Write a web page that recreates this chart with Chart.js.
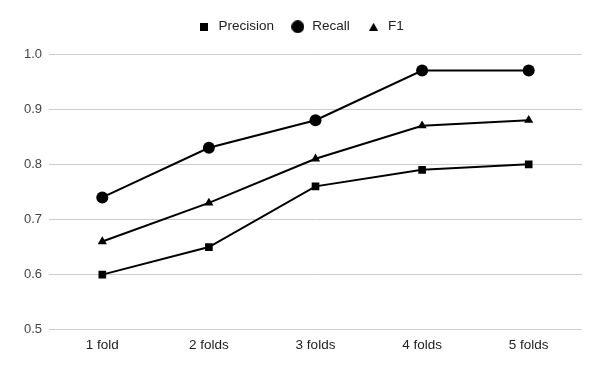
<!DOCTYPE html>
<html>
<head>
<meta charset="utf-8">
<script src="https://cdn.jsdelivr.net/npm/chart.js@4"></script>
<style>
html,body{margin:0;padding:0;background:#fff;}
#wrap{width:600px;height:371px;position:relative;}
</style>
</head>
<body>
<div id="wrap"><canvas id="c" width="600" height="371"></canvas></div>
<script>
const categories = ["1 fold", "2 folds", "3 folds", "4 folds", "5 folds"];
const precision = [0.60, 0.65, 0.76, 0.79, 0.80];
const recall = [0.74, 0.83, 0.88, 0.97, 0.97];
const f1 = [0.66, 0.73, 0.81, 0.87, 0.88];
const yTicks = [0.5, 0.6, 0.7, 0.8, 0.9, 1.0];

Chart.defaults.font.family = "'Liberation Sans', Arial, sans-serif";
Chart.defaults.color = "#444";

function mk(w, h, draw) {
  const c = document.createElement('canvas');
  c.width = w; c.height = h;
  const x = c.getContext('2d');
  x.fillStyle = '#000';
  draw(x);
  return c;
}
const legendIcons = [
  mk(8, 8, x => x.fillRect(0, 0, 8, 8)),
  mk(13, 13, x => { x.beginPath(); x.arc(6.5, 6.5, 6.5, 0, Math.PI * 2); x.fill(); }),
  mk(9, 8, x => { x.beginPath(); x.moveTo(4.5, 0); x.lineTo(9, 8); x.lineTo(0, 8); x.closePath(); x.fill(); })
];

const legendHeightPlugin = {
  id: 'legendHeight',
  beforeLayout(chart) {
    const lg = chart.legend;
    if (lg && !lg._patched) {
      const orig = lg.fit;
      lg.fit = function () { orig.call(this); this.height = 50; };
      lg._patched = true;
    }
  }
};

new Chart(document.getElementById('c'), {
  type: 'line',
  data: {
    labels: categories,
    datasets: [
      {label: 'Precision', data: precision, borderColor: '#000', backgroundColor: '#000',
       borderWidth: 2, pointStyle: 'rect', pointRadius: 5.4, pointBorderWidth: 0,
       pointBackgroundColor: '#000', tension: 0},
      {label: 'Recall', data: recall, borderColor: '#000', backgroundColor: '#000',
       borderWidth: 2, pointStyle: 'circle', pointRadius: 6, pointBorderWidth: 0,
       pointBackgroundColor: '#000', tension: 0},
      {label: 'F1', data: f1, borderColor: '#000', backgroundColor: '#000',
       borderWidth: 2, pointStyle: 'triangle', pointRadius: 5.3, pointBorderWidth: 0,
       pointBackgroundColor: '#000', tension: 0}
    ]
  },
  plugins: [legendHeightPlugin],
  options: {
    responsive: false,
    animation: false,
    layout: {padding: {left: 0, right: 0, top: 4, bottom: 11}},
    plugins: {
      legend: {
        position: 'top',
        labels: {
          usePointStyle: true,
          pointStyleWidth: 15.5,
          boxHeight: 9,
          color: '#222',
          font: {size: 13.5},
          padding: 16,
          generateLabels: (chart) =>
            Chart.defaults.plugins.legend.labels.generateLabels(chart)
              .map((l, i) => Object.assign(l, {pointStyle: legendIcons[i]}))
        }
      },
      tooltip: {enabled: false}
    },
    scales: {
      x: {
        offset: true,
        grid: {display: false, drawTicks: false},
        border: {display: false},
        ticks: {color: '#222', font: {size: 13.5}, padding: 7}
      },
      y: {
        min: 0.5, max: 1.0,
        afterFit: (s) => { s.width = 49; },
        afterBuildTicks: (s) => { s.ticks = yTicks.map(v => ({value: v})); },
        grid: {color: '#cccccc', drawTicks: false, lineWidth: 1},
        border: {display: false},
        ticks: {color: '#444', font: {size: 13}, padding: 7,
                callback: (v) => Number(v).toFixed(1)}
      },
      yRight: {
        position: 'right',
        display: true,
        min: 0, max: 1,
        afterFit: (s) => { s.width = 18; },
        grid: {display: false, drawTicks: false},
        border: {display: false},
        ticks: {display: false}
      }
    }
  }
});
</script>
</body>
</html>
